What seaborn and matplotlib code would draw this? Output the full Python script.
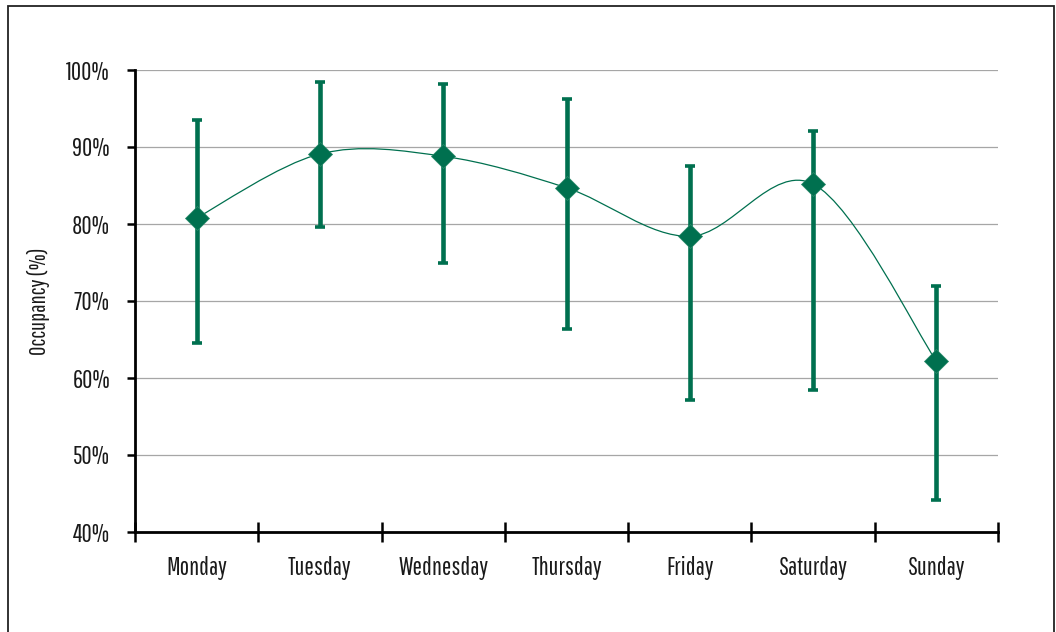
import numpy as np
import pandas as pd
import matplotlib
matplotlib.use("Agg")
import matplotlib.pyplot as plt
from matplotlib.path import Path
from matplotlib.patches import PathPatch, Rectangle
from matplotlib.ticker import FuncFormatter, FixedLocator
import seaborn as sns

# Weekly occupancy: mean with lower/upper range per day
days = ["Monday", "Tuesday", "Wednesday", "Thursday", "Friday", "Saturday", "Sunday"]
occupancy = [80.8, 89.1, 88.8, 84.7, 78.4, 85.2, 62.2]
upper = [93.5, 98.4, 98.2, 96.2, 87.5, 92.1, 72.0]
lower = [64.6, 79.6, 75.0, 66.3, 57.1, 58.5, 44.1]
y_ticks = [40, 50, 60, 70, 80, 90, 100]

GREEN = "#00704F"

sns.set_style("white")
plt.rcParams["font.family"] = ["Pathway Gothic One", "DejaVu Sans"]

fig = plt.figure(figsize=(10.56, 6.32), dpi=100)
ax = fig.add_axes([135 / 1056, 1 - 532 / 632, (998 - 135) / 1056, (532 - 70) / 632])

df = pd.DataFrame({"day": days, "pos": np.arange(len(days)), "occ": occupancy,
                   "lo": lower, "hi": upper})

# Smoothed connecting line (cubic Bezier through the points, Catmull-Rom tangents)
pts = np.column_stack([df["pos"].to_numpy(float), df["occ"].to_numpy(float)])
verts = [tuple(pts[0])]
codes = [Path.MOVETO]
n = len(pts)
for i in range(n - 1):
    p0 = pts[i - 1] if i > 0 else pts[i]
    p1, p2 = pts[i], pts[i + 1]
    p3 = pts[i + 2] if i + 2 < n else pts[i + 1]
    c1 = p1 + (p2 - p0) / 6.0
    c2 = p2 - (p3 - p1) / 6.0
    verts += [tuple(c1), tuple(c2), tuple(p2)]
    codes += [Path.CURVE4] * 3
ax.add_patch(PathPatch(Path(verts, codes), facecolor="none", edgecolor=GREEN,
                       lw=0.9, zorder=3))

# Range bars
ax.errorbar(df["pos"], df["occ"],
            yerr=[df["occ"] - df["lo"], df["hi"] - df["occ"]],
            fmt="none", ecolor=GREEN, elinewidth=3.3, capsize=3.6, capthick=2.6,
            zorder=4)

# Diamond markers
sns.scatterplot(data=df, x="pos", y="occ", marker="D", s=150, color=GREEN,
                edgecolor="#2a8a6a", linewidth=0.5, zorder=5, ax=ax, legend=False)

ax.set_xlim(-0.5, len(days) - 0.5)
ax.set_ylim(40, 100)

ax.yaxis.set_major_locator(FixedLocator(y_ticks))
ax.yaxis.set_major_formatter(FuncFormatter(lambda v, _: f"{v:.0f}%"))
ax.grid(axis="y", color="#a6a6a6", lw=0.9)
ax.grid(axis="x", visible=False)
ax.set_axisbelow(True)

# Category boundaries carry the tick marks; labels sit at the centres
ax.set_xticks(np.arange(len(days) + 1) - 0.5)
ax.set_xticklabels([])
ax.set_xticks(np.arange(len(days)), minor=True)
ax.set_xticklabels(days, minor=True)
ax.tick_params(axis="x", which="major", bottom=True, direction="inout", length=14,
               width=1.8, color="black")
ax.tick_params(axis="x", which="minor", bottom=True, length=0, pad=17, labelsize=18,
               labelcolor="#1a1a1a")
ax.tick_params(axis="y", left=True, direction="out", length=6, width=1.8,
               color="black", pad=12, labelsize=18, labelcolor="#1a1a1a")

for side in ("top", "right"):
    ax.spines[side].set_visible(False)
for side in ("left", "bottom"):
    ax.spines[side].set_color("black")
    ax.spines[side].set_linewidth(2.0)

ax.set_xlabel("")
ax.set_ylabel("Occupancy (%)", fontsize=16.5, color="#1a1a1a")
ax.yaxis.set_label_coords(-0.098, 0.5)

# Outer frame around the chart area
fig.add_artist(Rectangle((8 / 1056, -0.05), (1054 - 8) / 1056, 1.05 - 6 / 632,
                         transform=fig.transFigure, fill=False,
                         edgecolor="#222222", lw=1.3))

fig.savefig("out.png", dpi=100)
